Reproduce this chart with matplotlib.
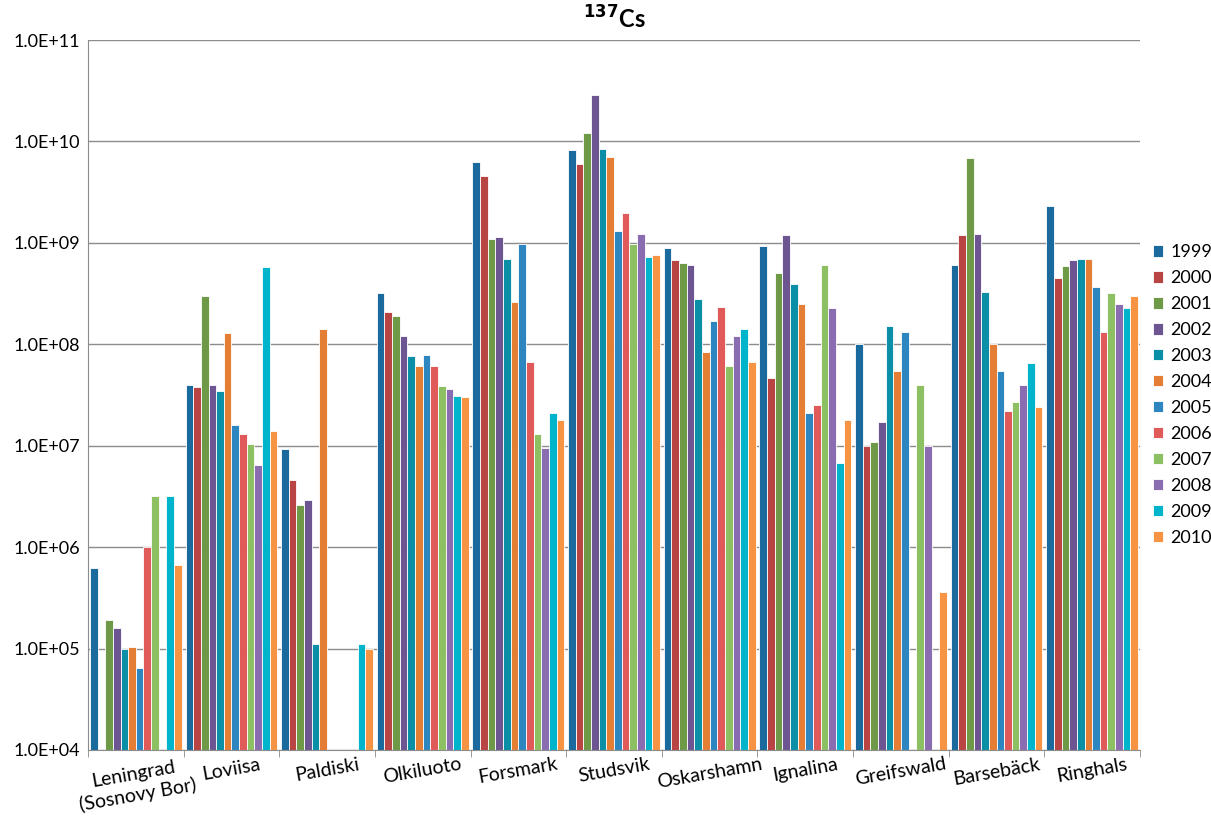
import numpy as np
import matplotlib.pyplot as plt
from matplotlib.ticker import FixedLocator, NullLocator

plt.rcParams['font.family'] = ['Lato', 'DejaVu Sans']

sites = ['Leningrad\n(Sosnovy Bor)', 'Loviisa', 'Paldiski', 'Olkiluoto', 'Forsmark', 'Studsvik',
         'Oskarshamn', 'Ignalina', 'Greifswald', 'Barsebäck', 'Ringhals']
years = ['1999', '2000', '2001', '2002', '2003', '2004', '2005', '2006', '2007', '2008', '2009', '2010']
nan = np.nan

# one list per site, values 1999..2010 (Bq)
leningrad = [6.2e5, nan, 1.9e5, 1.6e5, 1.0e5, 1.03e5, 6.5e4, 1.0e6, 3.2e6, nan, 3.2e6, 6.7e5]
loviisa = [4.0e7, 3.8e7, 3.0e8, 4.0e7, 3.5e7, 1.3e8, 1.6e7, 1.3e7, 1.05e7, 6.5e6, 5.8e8, 1.4e7]
paldiski = [9.2e6, 4.6e6, 2.6e6, 2.9e6, 1.12e5, 1.4e8, nan, nan, nan, nan, 1.12e5, 1.0e5]
olkiluoto = [3.2e8, 2.1e8, 1.9e8, 1.2e8, 7.6e7, 6.1e7, 7.8e7, 6.1e7, 3.9e7, 3.6e7, 3.1e7, 3.0e7]
forsmark = [6.2e9, 4.6e9, 1.1e9, 1.15e9, 7.0e8, 2.6e8, 9.8e8, 6.7e7, 1.3e7, 9.5e6, 2.1e7, 1.8e7]
studsvik = [8.3e9, 6.0e9, 1.2e10, 2.9e10, 8.5e9, 7.0e9, 1.32e9, 1.95e9, 9.7e8, 1.22e9, 7.3e8, 7.6e8]
oskarshamn = [8.9e8, 6.7e8, 6.3e8, 6.0e8, 2.8e8, 8.4e7, 1.7e8, 2.35e8, 6.1e7, 1.22e8, 1.42e8, 6.7e7]
ignalina = [9.3e8, 4.6e7, 5.1e8, 1.2e9, 3.9e8, 2.5e8, 2.1e7, 2.5e7, 6.0e8, 2.3e8, 6.8e6, 1.8e7]
greifswald = [1.0e8, 1.0e7, 1.08e7, 1.7e7, 1.52e8, 5.4e7, 1.32e8, nan, 4.0e7, 1.0e7, nan, 3.6e5]
barseback = [6.0e8, 1.2e9, 6.8e9, 1.22e9, 3.3e8, 1.0e8, 5.4e7, 2.2e7, 2.7e7, 4.0e7, 6.6e7, 2.4e7]
ringhals = [2.3e9, 4.5e8, 5.9e8, 6.8e8, 7.0e8, 7.0e8, 3.7e8, 1.33e8, 3.2e8, 2.5e8, 2.3e8, 3.0e8]

data = np.array([leningrad, loviisa, paldiski, olkiluoto, forsmark, studsvik,
                 oskarshamn, ignalina, greifswald, barseback, ringhals])

colors = ['#1B6A9E', '#B94444', '#6E9A47', '#6C5590', '#0A8FA6', '#E57E35',
          '#2E86C1', '#E05A5A', '#8CC063', '#8A6CB0', '#00B4CC', '#F79443']

fig = plt.figure(figsize=(12.11, 8.26), dpi=100)
ax = fig.add_axes([88 / 1211, 76 / 826, 1052 / 1211, 710 / 826])

base = 1e4
n = len(years)
w = 0.96 / n
x = np.arange(len(sites))
for i, yr in enumerate(years):
    vals = data[:, i]
    ax.bar(x - 0.48 + w * (i + 0.5), vals - base, w, bottom=base, color=colors[i],
           edgecolor='white', linewidth=0.6, label=yr)

ax.set_yscale('log')
ax.set_ylim(1e4, 1e11)
ax.set_xlim(-0.5, len(sites) - 0.5)
ticks = [10.0 ** k for k in range(4, 12)]
ax.yaxis.set_major_locator(FixedLocator(ticks))
ax.yaxis.set_minor_locator(NullLocator())
ax.set_yticklabels(['1.0E+%02d' % k for k in range(4, 12)], fontsize=13)
ax.grid(axis='y', color='#8c8c8c', linewidth=1)
ax.set_axisbelow(True)
ax.tick_params(axis='y', length=0, pad=6)

ax.set_xticks(x)
ax.set_xticklabels(sites, fontsize=14, rotation=10, ha='center')
ax.set_xticks(np.arange(len(sites) + 1) - 0.5, minor=True)
ax.tick_params(axis='x', which='major', length=0, pad=4)
ax.tick_params(axis='x', which='minor', length=5, color='#8c8c8c')

for s in ['top', 'right']:
    ax.spines[s].set_visible(False)
ax.spines['left'].set_color('#8c8c8c')
ax.spines['bottom'].set_color('#8c8c8c')

ax.set_title('$\\mathbf{^{137}}$Cs', fontsize=17, fontweight='bold', pad=8)

ax.legend(loc='center left', bbox_to_anchor=(1.0, 0.5), frameon=False, fontsize=13,
          handlelength=0.6, handleheight=0.6, handletextpad=0.4, labelspacing=0.55,
          borderaxespad=0.3)

fig.savefig('out.png', dpi=100)
